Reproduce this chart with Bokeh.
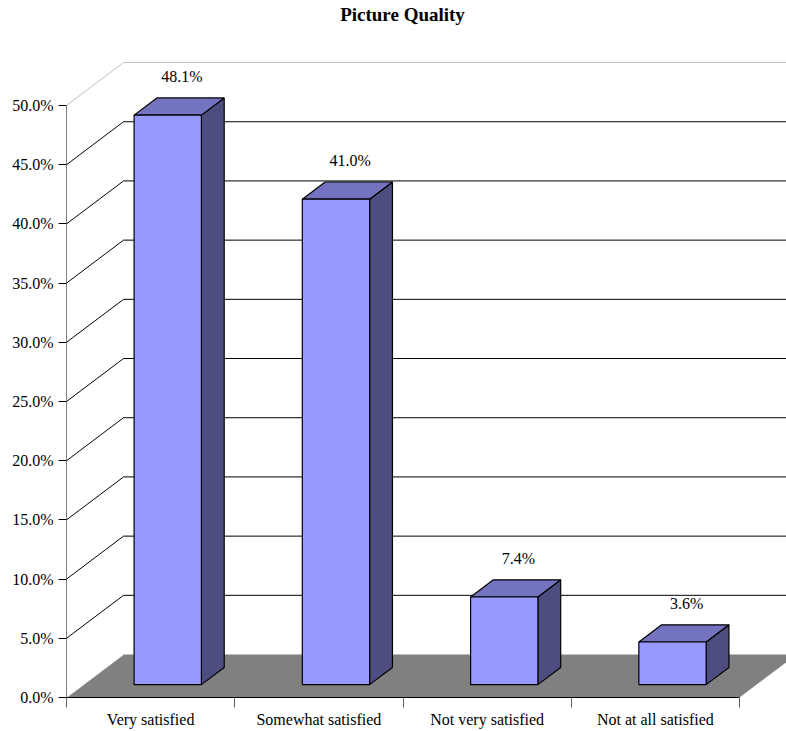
from bokeh.plotting import figure
from bokeh.models import FixedTicker, PrintfTickFormatter, Range1d
from bokeh.core.properties import value
from bokeh.embed import file_html
from bokeh.resources import INLINE

# --- data -------------------------------------------------------------
title = "Picture Quality"
categories = ["Very satisfied", "Somewhat satisfied", "Not very satisfied", "Not at all satisfied"]
shares = [48.1, 41.0, 7.4, 3.6]          # percent of respondents
y_ticks = [0, 5, 10, 15, 20, 25, 30, 35, 40, 45, 50]

# --- pseudo-3D geometry (in data units) --------------------------------
DEPTH_X = 0.339      # horizontal shift of the back wall, in category widths
DEPTH_Y = 3.63       # vertical shift of the back wall, in percent
BAR_W = 0.4          # bar width as a fraction of a category
BAR_FRONT = 0.3      # depth fraction where the bar's front face sits
BAR_BACK = 0.7       # depth fraction of the bar's back face
N = len(categories)
X_END = 4.2793
Y_END = 58.87

FONT = "Liberation Serif"
FRONT_C = "#9999FF"
TOP_C = "#7373BF"
SIDE_C = "#4D4D80"

p = figure(width=786, height=731, output_backend="svg", toolbar_location=None, title=None,
           x_range=Range1d(0, X_END), y_range=Range1d(0, Y_END),
           min_border_left=66, min_border_right=0, min_border_top=0, min_border_bottom=34)
p.outline_line_color = None
p.xgrid.visible = False
p.ygrid.visible = False
p.background_fill_color = "white"

# chart title, drawn inside the top band of the frame
p.text(x=[1.997], y=[57.69], text=[title], text_font=value(FONT), text_font_style="bold",
       text_font_size="19px", text_color="black", text_align="center", text_baseline="middle")

# back wall gridlines and their diagonals toward the front axis
wall_xs, wall_ys, wall_c = [], [], []
for t in y_ticks[1:]:
    c = "#C0C0C0" if t == y_ticks[-1] else "black"
    wall_xs.append([0, DEPTH_X]); wall_ys.append([t, t + DEPTH_Y]); wall_c.append(c)
    wall_xs.append([DEPTH_X, X_END]); wall_ys.append([t + DEPTH_Y, t + DEPTH_Y]); wall_c.append(c)
p.multi_line(xs=wall_xs, ys=wall_ys, line_color=wall_c, line_width=1)

# floor
p.patch(x=[0, N, N + DEPTH_X, DEPTH_X], y=[0, 0, DEPTH_Y, DEPTH_Y],
        fill_color="#808080", line_color=None)
p.multi_line(xs=[[0, DEPTH_X], [DEPTH_X, X_END]], ys=[[0, DEPTH_Y], [DEPTH_Y, DEPTH_Y]],
             line_color=["#F0F0F0", "#C0C0C0"], line_width=1)

# bars: front, top and side faces
fx, fy, tx, ty, sx, sy = [], [], [], [], [], []
for i, v in enumerate(shares):
    x0 = i + (1 - BAR_W) / 2
    x1 = x0 + BAR_W
    ax, ay = BAR_FRONT * DEPTH_X, BAR_FRONT * DEPTH_Y
    bx, by = BAR_BACK * DEPTH_X, BAR_BACK * DEPTH_Y
    fx.append([x0 + ax, x1 + ax, x1 + ax, x0 + ax])
    fy.append([ay, ay, v + ay, v + ay])
    tx.append([x0 + ax, x1 + ax, x1 + bx, x0 + bx])
    ty.append([v + ay, v + ay, v + by, v + by])
    sx.append([x1 + ax, x1 + bx, x1 + bx, x1 + ax])
    sy.append([ay, by, v + by, v + ay])
p.patches(xs=sx, ys=sy, fill_color=SIDE_C, line_color="black", line_width=1.2)
p.patches(xs=tx, ys=ty, fill_color=TOP_C, line_color="black", line_width=1.2)
p.patches(xs=fx, ys=fy, fill_color=FRONT_C, line_color="black", line_width=1.2)

# value labels above each bar
lab_x = [i + 0.5 + 0.55 * DEPTH_X for i in range(N)]
lab_y = [v + BAR_BACK * DEPTH_Y + 1.8 for v in shares]
p.text(x=lab_x, y=lab_y, text=[f"{v:.1f}%" for v in shares],
       text_font=value(FONT), text_font_size="16px", text_color="black",
       text_align="center", text_baseline="middle")

# axes
ya = p.yaxis[0]
ya.ticker = FixedTicker(ticks=y_ticks)
ya.formatter = PrintfTickFormatter(format="%.1f%%")
ya.bounds = (0, y_ticks[-1])
ya.axis_line_color = "#808080"
ya.major_tick_line_color = "black"
ya.major_tick_out = 8
ya.major_tick_in = 0
ya.minor_tick_line_color = None
ya.major_label_standoff = 5
ya.major_label_text_font = FONT
ya.major_label_text_font_size = "16px"
ya.major_label_text_color = "black"

xa = p.xaxis[0]
centers = [i + 0.5 for i in range(N)]
xa.ticker = FixedTicker(ticks=centers, minor_ticks=list(range(N + 1)))
xa.major_label_overrides = {c: name for c, name in zip(centers, categories)}
xa.bounds = (0, N)
xa.axis_line_color = "black"
xa.major_tick_out = 0
xa.major_tick_in = 0
xa.minor_tick_out = 10
xa.minor_tick_in = 0
xa.minor_tick_line_color = "#606060"
xa.major_label_standoff = 3
xa.major_label_text_font = FONT
xa.major_label_text_font_size = "16px"
xa.major_label_text_color = "black"

open("out.html", "w").write(file_html(p, INLINE))
